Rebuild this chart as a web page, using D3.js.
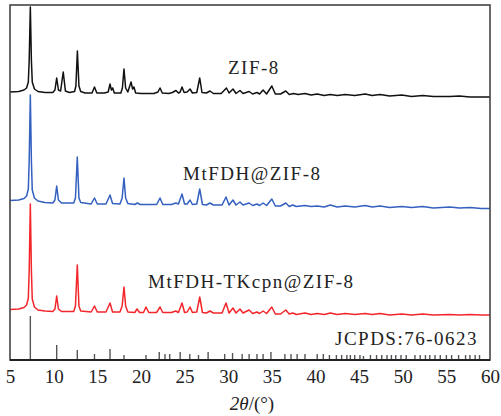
<!DOCTYPE html>
<html><head><meta charset="utf-8">
<script src="https://cdn.jsdelivr.net/npm/d3@7"></script>
<style>
html,body{margin:0;padding:0;background:#fff;}
svg{display:block;}
</style></head>
<body>
<script>
// ---- data (intensity in a.u., stacked) ----
const xTicks = [5,10,15,20,25,30,35,40,45,50,55,60];

const zif8Theta = [5.0,6.0,6.6,6.9,7.1,7.2,7.33,7.45,7.55,7.8,8.2,9.0,9.9,10.15,10.35,10.55,10.8,11.1,11.35,11.8,12.4,12.55,12.72,12.9,13.1,13.6,14.4,14.68,14.95,15.8,16.25,16.46,16.62,16.77,16.95,17.7,17.88,18.06,18.25,18.5,18.87,19.05,19.2,19.4,20.0,21.5,21.95,22.19,22.45,23.2,23.6,24.02,24.3,24.5,24.71,24.95,25.3,25.63,25.9,26.4,26.74,27.0,27.5,27.92,28.3,29.2,29.8,30.1,30.55,30.9,31.35,31.7,32.4,32.8,33.3,33.6,34.0,34.4,35.0,35.4,36.0,36.6,37.0,37.5,38.0,38.8,39.5,40.2,41.0,41.7,42.5,43.4,44.5,45.7,46.5,47.4,48.5,49.9,51.0,52.3,53.5,55.4,56.5,57.7,59.0,60.0];
const zif8Int = [268,268.5,270,272,278,300,353,300,278,271,268.5,267.5,267.5,270,282,270,269,288,269,267.5,268.5,274,309,274,268.5,267,267,273,267,267,268,276,270,272,267,267,272,291,272,268,278,271,273,267,266.5,266.5,268,272,267,266.5,267.5,269.5,267,268,273,267.5,268,271,267,267.5,282,267.5,267,269,266.5,266.5,272,267,271,266.5,269.5,266.5,268.5,266,267.5,266,270,266,274,266,266,269,265.5,266.5,265.5,266.5,265,266,264.5,265.5,264.5,265.5,264.5,266,264.5,265.5,264,265,263.5,264.5,263.5,263.5,264,263,263,263];

const mtTheta = [5.0,6.0,6.6,6.9,7.1,7.2,7.33,7.45,7.55,7.8,8.2,9.0,9.9,10.15,10.35,10.55,10.9,12.3,12.5,12.71,12.9,13.1,14.3,14.68,15.0,16.0,16.46,16.75,17.6,17.85,18.06,18.25,18.5,19.3,19.6,19.9,21.8,22.19,22.5,23.5,24.0,24.3,24.71,25.0,25.3,25.63,25.9,26.4,26.74,27.05,27.5,27.92,28.3,29.3,29.75,30.1,30.55,30.9,31.35,31.7,32.4,32.8,33.3,33.6,34.0,34.4,35.0,35.4,36.0,36.6,37.0,37.4,37.8,38.8,39.5,40.2,41.0,41.7,42.5,43.4,44.5,45.7,46.5,47.4,48.5,49.9,51.0,52.3,53.5,55.4,56.5,57.7,59.0,60.0];
const mtInt = [159.5,160,161.5,164,171,200,265,200,170,162,159,157.5,157,160,174,160,157,157,162,203,162,157.5,156,162,156,156,165,156.5,156,162,182,162,156.5,155.5,157,155.5,155.5,162,155.5,155.5,157,156,166,156,156,160,155.5,156,171,155.5,155,157,155,155,163,155,160,155,158,155,157,154.5,156,154.5,157,154.5,161,154,154,157,153.5,155,153.5,154.5,153.5,154,153,155,153,154,153,154.5,153,154,152.5,153.5,152.5,153.5,152,153,152,152.5,151.5,151.5];

const tkTheta = [5.0,6.0,6.6,6.9,7.1,7.2,7.33,7.45,7.55,7.8,8.2,9.0,9.9,10.15,10.35,10.55,10.9,12.3,12.5,12.71,12.9,13.1,14.3,14.68,15.0,16.0,16.46,16.75,17.6,17.85,18.06,18.25,18.5,19.3,19.55,19.85,20.3,20.58,20.9,21.8,22.19,22.5,23.5,24.0,24.3,24.71,25.0,25.3,25.63,25.9,26.4,26.74,27.05,27.5,27.92,28.3,29.3,29.75,30.1,30.55,30.9,31.35,31.7,32.4,32.8,33.3,33.6,34.0,34.4,35.0,35.4,36.0,36.6,37.0,37.4,37.8,38.8,39.5,40.2,41.0,41.7,42.5,43.4,44.5,45.7,46.5,47.4,48.5,49.9,51.0,52.3,53.5,55.4,56.5,57.7,59.0,60.0];
const tkInt = [50.5,51,52.5,55,62,90,156,90,61,53,50,49,48.5,51,64,51,48.5,48.5,54,95,54,49,48,54,48,48,57,48,48,54,73,54,48,47.5,51,47.5,47.5,53,47.5,47.5,53,47.5,47.5,49,47.5,57,47.5,48,53,47.5,48,63,47.5,47,49,47,47,57,47,52,47,51,47,50,46.5,48,46.5,49,46.5,53,46,46,50,46,47,45.5,47,45.5,46.5,45.5,47,45.5,46.5,45.5,46.5,45.5,46.5,45,46,45,46,45,45.5,45,45.5,45,45];

const refTheta = [7.33,10.35,12.71,14.68,16.46,18.06,20.58,22.1,22.76,23.3,24.5,25.6,26.6,27.7,29.6,30.5,31.6,32.4,33.3,34.0,34.9,36.5,37.2,37.9,38.8,40.2,40.9,41.6,42.4,43.0,43.6,44.0,44.5,45.1,45.5,46.3,47.0,47.6,48.2,48.7,49.2,49.8,50.4,51.4,52.0,52.6,53.1,53.7,54.3,55.0,55.6,56.4,57.2,57.7,58.3,58.8];
const refInt = [44,15,10,6,11,5,5,8,6,6,8,6,5,8,6,7,6,6,6,6,8,6,6,6,6,6,6,5,5,5,5,5,5,5,4,5,5,5,5,5,5,5,5,5,5,5,5,5,5,5,5,5,5,5,5,5];

const seriesNames = ["ZIF-8","MtFDH@ZIF-8","MtFDH-TKcpn@ZIF-8"];
const refLabel = "JCPDS:76-0623";
const xTitleItalic = "2θ";
const xTitleRest = "/(°)";

// ---- drawing ----
const W = 501, H = 416;
const m = {left:10, right:11, top:5, bottom:56};
const FONT = "'Liberation Serif','Times New Roman',serif";
const svg = d3.select("body").append("svg").attr("width",W).attr("height",H);

const x = d3.scaleLinear().domain([5,60]).range([m.left, W-m.right]);
const y = d3.scaleLinear().domain([0,355]).range([H-m.bottom, m.top]);

svg.append("defs").append("clipPath").attr("id","clip")
  .append("rect").attr("x",m.left).attr("y",m.top)
  .attr("width",W-m.left-m.right).attr("height",H-m.top-m.bottom);

const line = d3.line().x(d=>x(d[0])).y(d=>y(d[1]));
const series = [
  {t:zif8Theta, v:zif8Int, color:"#111111"},
  {t:mtTheta, v:mtInt, color:"#3460c0"},
  {t:tkTheta, v:tkInt, color:"#f2262b"}
];
const g = svg.append("g").attr("clip-path","url(#clip)");
series.forEach(s=>{
  g.append("path").datum(s.t.map((t,i)=>[t,s.v[i]]))
    .attr("d",line).attr("fill","none").attr("stroke",s.color)
    .attr("stroke-width",1.5).attr("stroke-linejoin","round");
});

// reference sticks
g.selectAll("line.ref").data(refTheta.map((t,i)=>[t,refInt[i]])).enter()
  .append("line").attr("class","ref")
  .attr("x1",d=>x(d[0])).attr("x2",d=>x(d[0]))
  .attr("y1",y(0)).attr("y2",d=>y(d[1]))
  .attr("stroke","#555").attr("stroke-width",1.4);

// frame
svg.append("rect").attr("x",m.left).attr("y",m.top)
  .attr("width",W-m.left-m.right).attr("height",H-m.top-m.bottom)
  .attr("fill","none").attr("stroke","#444").attr("stroke-width",1.6);
svg.append("line").attr("x1",m.left).attr("x2",W-m.right)
  .attr("y1",y(0)).attr("y2",y(0)).attr("stroke","#222").attr("stroke-width",2);

// x axis tick labels
const xAxis = d3.axisBottom(x).tickValues(xTicks).tickSize(0).tickPadding(10).tickFormat(d3.format("d"));
const ax = svg.append("g").attr("transform",`translate(0,${y(0)})`).call(xAxis);
ax.select(".domain").remove();
ax.selectAll("text").attr("font-family",FONT).attr("font-size",19).attr("fill","#222");

// axis title
const tt = svg.append("text").attr("x",(m.left+W-m.right)/2+2).attr("y",410)
  .attr("text-anchor","middle").attr("font-family",FONT)
  .attr("font-size",19).attr("fill","#222");
tt.append("tspan").attr("font-style","italic").text(xTitleItalic);
tt.append("tspan").text(xTitleRest);

// labels
const lab = [
  {text:seriesNames[0], x:228, y:74},
  {text:seriesNames[1], x:183, y:180},
  {text:seriesNames[2], x:148, y:288},
  {text:refLabel, x:335, y:345}
];
svg.selectAll("text.lab").data(lab).enter().append("text").attr("class","lab")
  .attr("x",d=>d.x).attr("y",d=>d.y)
  .attr("font-family",FONT).attr("font-size",19)
  .attr("letter-spacing",1.5).attr("fill","#222").text(d=>d.text);
</script>
</body></html>
